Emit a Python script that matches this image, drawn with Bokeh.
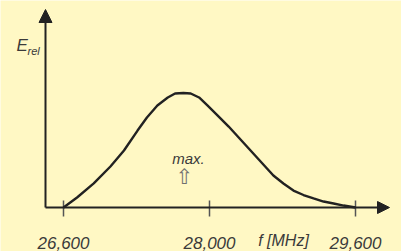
import numpy as np
from bokeh.plotting import figure
from bokeh.models import Range1d, Arrow, NormalHead, ColumnDataSource
from bokeh.core.properties import value
from bokeh.embed import file_html
from bokeh.resources import INLINE

# ---- data ----
tick_values = [26600, 28000, 29600]
tick_labels = ["26,600", "28,000", "29,600"]
freq_mhz = [26600, 26730, 26890, 27050, 27180, 27310, 27400, 27500, 27600, 27670,
            27750, 27820, 27900, 27980, 28090, 28210, 28340, 28470, 28580, 28700,
            28810, 28920, 29030, 29140, 29250, 29360, 29470, 29600]
e_rel = [0.000, 0.087, 0.210, 0.358, 0.498, 0.672, 0.786, 0.891, 0.961, 0.996,
         1.000, 0.996, 0.961, 0.891, 0.803, 0.707, 0.594, 0.480, 0.384, 0.279,
         0.210, 0.148, 0.109, 0.079, 0.052, 0.035, 0.017, 0.000]
x_title = "f [MHz]"
y_title = "E"
y_sub = "rel"
note = "max."

BG = "#FFF8C4"
INK = "#222222"
TXT = "#3a3a3a"
FONT = "Liberation Sans"

# the drawing's frequency axis is schematic: ticks equally spaced
def fpos(f):
    return np.interp(f, tick_values, np.arange(len(tick_values)))

# pixel helpers for layout
X0, SX = 63.0, 146.0
Y0, SY = 207.0, 114.5
def dx(px):
    return (px - X0) / SX
def dy(py):
    return (Y0 - py) / SY

W, H = 401, 251
p = figure(width=W, height=H, output_backend="svg", toolbar_location=None,
           x_range=Range1d(dx(0), dx(W)), y_range=Range1d(dy(H), dy(0)),
           x_axis_location=None, y_axis_location=None, min_border=0,
           background_fill_color=BG, border_fill_color=BG, outline_line_color=None)
p.grid.visible = False

# axes with arrow heads
xa = dx(45)
p.add_layout(Arrow(x_start=xa, y_start=0, x_end=xa, y_end=dy(9),
                   line_color=INK, line_width=2,
                   end=NormalHead(size=13, fill_color=INK, line_color=INK, line_width=1)))
p.add_layout(Arrow(x_start=xa, y_start=0, x_end=dx(389), y_end=0,
                   line_color=INK, line_width=2,
                   end=NormalHead(size=12, fill_color=INK, line_color=INK, line_width=1)))

# ticks crossing the axis
tpos = fpos(tick_values)
p.segment(x0=tpos, y0=[dy(200)] * 3, x1=tpos, y1=[dy(216)] * 3,
          line_color="#555555", line_width=1.5)
p.text(x=tpos, y=[dy(242)] * 3, text=tick_labels, text_align="center",
       text_baseline="alphabetic", text_font=value(FONT), text_font_style="italic",
       text_font_size="17px", text_color=TXT)

# curve
src = ColumnDataSource(dict(x=fpos(freq_mhz), y=e_rel))
p.line("x", "y", source=src, line_color=INK, line_width=2.4, line_join="round")

# labels
p.text(x=[dx(283)], y=[dy(240)], text=[x_title], text_align="center",
       text_baseline="alphabetic", text_font=value(FONT), text_font_style="italic",
       text_font_size="16px", text_color=TXT)
p.text(x=[dx(16)], y=[dy(45)], text=[y_title], text_align="left",
       text_baseline="alphabetic", text_font=value(FONT), text_font_style="italic",
       text_font_size="17px", text_color=TXT)
p.text(x=[dx(27)], y=[dy(50)], text=[y_sub], text_align="left",
       text_baseline="alphabetic", text_font=value(FONT), text_font_style="italic",
       text_font_size="11px", text_color=TXT)
p.text(x=[dx(188)], y=[dy(158)], text=[note], text_align="center",
       text_baseline="alphabetic", text_font=value(FONT), text_font_style="italic",
       text_font_size="15px", text_color=TXT)
p.text(x=[dx(184)], y=[dy(176)], text=["\u21e7"], text_align="center",
       text_baseline="alphabetic", text_font=value("DejaVu Sans"),
       text_font_size="21px", text_color="#707070")

open("out.html", "w").write(file_html(p, INLINE))
